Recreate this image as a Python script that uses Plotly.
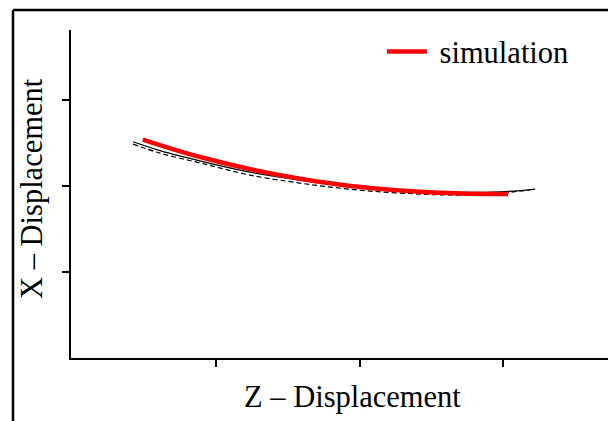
import plotly.graph_objects as go

# Data
sim_x = [0.49, 0.715, 0.924, 1.237, 1.585, 1.794, 2.073, 2.422, 2.70, 3.035]
sim_y = [2.544, 2.425, 2.326, 2.200, 2.088, 2.035, 1.980, 1.935, 1.916, 1.909]

ref_x = [0.422, 0.610, 0.923, 1.237, 1.585, 1.934, 2.282, 2.631, 2.979, 3.118, 3.223]
ref_y = [2.518, 2.416, 2.282, 2.165, 2.072, 2.002, 1.956, 1.932, 1.936, 1.950, 1.967]

dash_x = [0.422, 0.610, 0.923, 1.237, 1.585, 1.794, 2.073, 2.422, 2.700, 2.979, 3.118, 3.223]
dash_y = [2.491, 2.386, 2.258, 2.130, 2.037, 1.991, 1.944, 1.909, 1.898, 1.921, 1.944, 1.967]

x_ticks = [1, 2, 3]
y_ticks = [1, 2, 3]

FONT = "Liberation Serif"
FS = 30.5

fig = go.Figure()
fig.add_trace(go.Scatter(x=ref_x, y=ref_y, mode="lines", showlegend=False,
                         line=dict(color="black", width=1.2, shape="spline")))
fig.add_trace(go.Scatter(x=dash_x, y=dash_y, mode="lines", showlegend=False,
                         line=dict(color="black", width=1.2, dash="5px,3px", shape="spline")))
fig.add_trace(go.Scatter(x=sim_x, y=sim_y, mode="lines", name="\u00a0simulation",
                         line=dict(color="#ff0000", width=4.5, shape="spline")))

fig.update_layout(
    width=608, height=421,
    margin=dict(l=71, r=0, t=30, b=63),
    paper_bgcolor="white", plot_bgcolor="white",
    font=dict(family=FONT, size=FS, color="black"),
    showlegend=True,
    legend=dict(x=0.579, y=1.015, xanchor="left", yanchor="top",
                bgcolor="rgba(0,0,0,0)", borderwidth=0,
                font=dict(family=FONT, size=FS, color="black"), itemwidth=40),
    xaxis=dict(range=[-0.01, 3.73], tickvals=x_ticks, showticklabels=False,
               ticks="outside", ticklen=7, tickwidth=2, tickcolor="black",
               showline=True, linecolor="black", linewidth=2,
               showgrid=False, zeroline=False),
    yaxis=dict(range=[0, 3.82], tickvals=y_ticks, showticklabels=False,
               ticks="outside", ticklen=7, tickwidth=2, tickcolor="black",
               showline=True, linecolor="black", linewidth=2,
               showgrid=False, zeroline=False),
    annotations=[
        dict(text="Z – Displacement", xref="paper", yref="paper",
             x=(352 - 71) / 537, y=(358 - 397) / 328, xanchor="center", yanchor="middle",
             showarrow=False, font=dict(family=FONT, size=FS, color="black")),
        dict(text="X – Displacement", xref="paper", yref="paper",
             x=(32 - 71) / 537, y=(358 - 189) / 328, xanchor="center", yanchor="middle",
             textangle=-90, showarrow=False, font=dict(family=FONT, size=FS, color="black")),
    ],
    shapes=[
        dict(type="line", xref="paper", yref="paper", x0=(13 - 71) / 537, x1=(13 - 71) / 537,
             y0=(358 - 10) / 328, y1=(358 - 425) / 328, line=dict(color="black", width=2.5)),
        dict(type="line", xref="paper", yref="paper", x0=(13 - 71) / 537, x1=1.02,
             y0=(358 - 10) / 328, y1=(358 - 10) / 328, line=dict(color="black", width=2.5)),
    ],
)

fig.write_html("out.html")
